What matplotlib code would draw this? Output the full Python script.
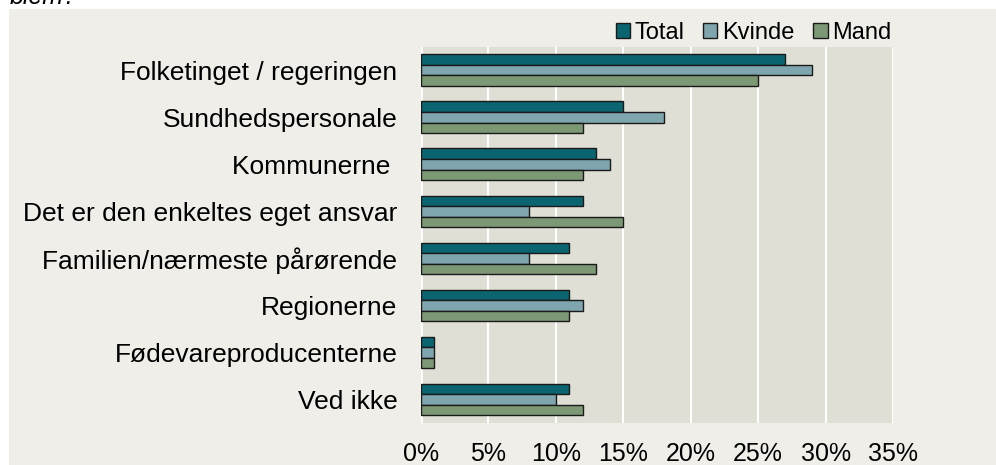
import matplotlib.pyplot as plt
import numpy as np

categories = ['Folketinget / regeringen', 'Sundhedspersonale', 'Kommunerne ',
              'Det er den enkeltes eget ansvar', 'Familien/nærmeste pårørende',
              'Regionerne', 'Fødevareproducenterne', 'Ved ikke']
total = [27, 15, 13, 12, 11, 11, 1, 11]
kvinde = [29, 18, 14, 8, 8, 12, 1, 10]
mand = [25, 12, 12, 15, 13, 11, 1, 12]
series_names = ['Total', 'Kvinde', 'Mand']
xticks = [0, 5, 10, 15, 20, 25, 30, 35]

colors = ['#0A6570', '#7FA5AF', '#7D9874']

plt.rcParams['font.family'] = ['Liberation Sans', 'DejaVu Sans']

fig = plt.figure(figsize=(9.96, 4.65), dpi=100)
fig.patch.set_facecolor('white')

# light panel behind the chart
bg = fig.add_axes([9/996, 0, 1 - 9/996, 1 - 9/465], zorder=-1)
bg.set_facecolor('#EFEEE8')
bg.set_xticks([])
bg.set_yticks([])
for s in bg.spines.values():
    s.set_visible(False)

fig.text(10/996, 1 - 4/465, 'blem?', fontsize=18, style='italic', va='baseline', ha='left')

ax = fig.add_axes([421/996, 1 - 423/465, (893 - 421)/996, (423 - 46.7)/465])
ax.set_facecolor('#E0DFD5')

y = np.arange(len(categories))
h = 0.224
for i, (vals, name) in enumerate(zip([total, kvinde, mand], series_names)):
    ax.barh(y + (i - 1) * h, vals, height=h, color=colors[i], edgecolor='#1a1a1a',
            linewidth=1, label=name, zorder=3)

ax.set_xlim(0, 35)
ax.set_ylim(len(categories) - 0.5, -0.5)
ax.set_xticks(xticks)
ax.set_xticklabels([f'{t}%' for t in xticks], fontsize=18)
ax.set_yticks(y)
ax.set_yticklabels(categories, fontsize=19)
ax.tick_params(axis='x', length=0, pad=14)
ax.tick_params(axis='y', length=0, pad=17)
ax.grid(axis='x', color='white', linewidth=1.5, zorder=1)
for s in ax.spines.values():
    s.set_visible(False)
ax.axvline(0, color='white', linewidth=2, zorder=1)

ax.legend(loc='lower right', bbox_to_anchor=(0.997, 1.008), ncol=3, frameon=False,
          fontsize=17, handlelength=0.6, handleheight=0.6, handletextpad=0.2,
          columnspacing=0.8, borderpad=0, borderaxespad=0)

fig.savefig('out.png', dpi=100, facecolor=fig.get_facecolor())
